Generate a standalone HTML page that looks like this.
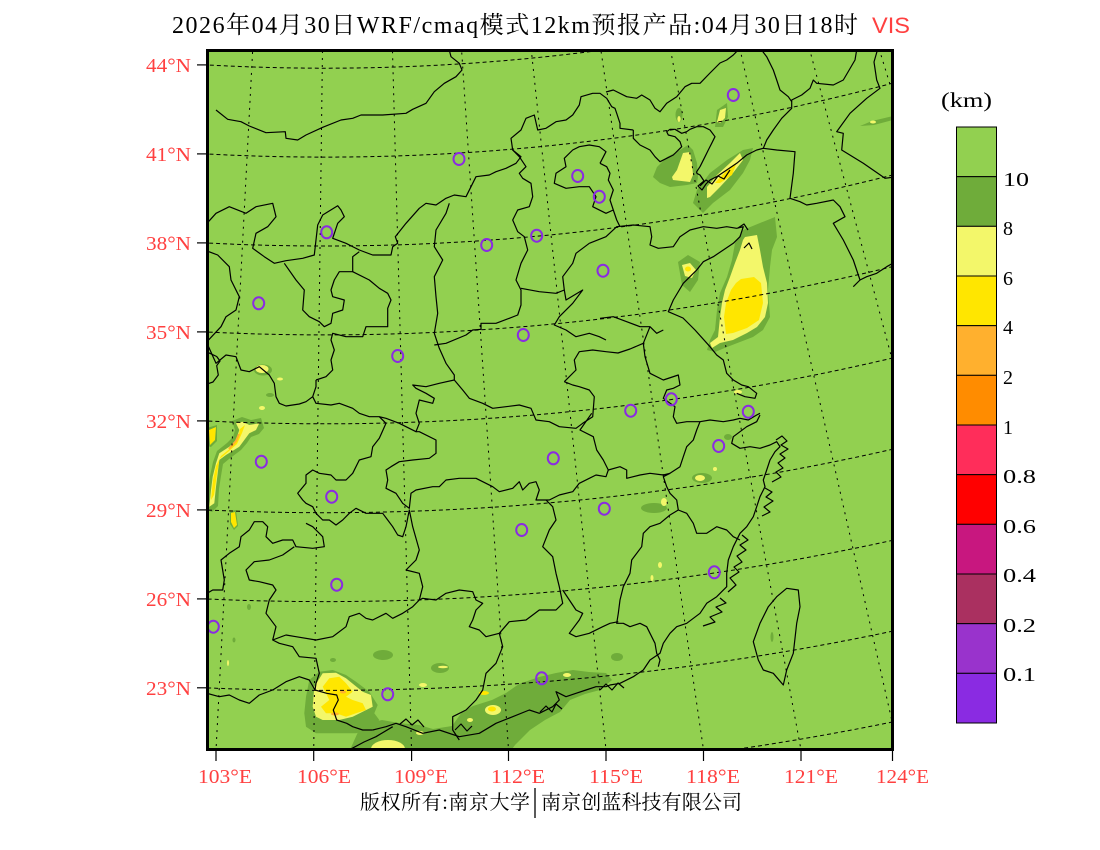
<!DOCTYPE html>
<html><head><meta charset="utf-8">
<style>
html,body{margin:0;padding:0;background:#fff;width:1100px;height:850px;overflow:hidden}
svg{display:block}
</style></head>
<body>
<svg xmlns="http://www.w3.org/2000/svg" width="1100" height="850" viewBox="0 0 1100 850">
<rect x="0" y="0" width="1100" height="850" fill="#ffffff"/>
<defs>
<clipPath id="mc"><rect x="209" y="52" width="682.5" height="696.5"/></clipPath>
</defs>

<g clip-path="url(#mc)">
<rect x="205" y="48" width="690" height="704" fill="#92D050"/>

<!-- fog shapes -->
<g stroke="none">
<!-- Yellow Sea -->
<polygon fill="#6FAC3A" points="743,230 760,223 775,217 777,237 772,250 770,267 768,290 770,317 763,330 753,337 740,342 727,347 715,352 707,350 710,340 715,330 717,310 720,293 727,277 732,260 735,243 740,235"/>
<polygon fill="#F3F76A" points="745,237 757,235 760,250 763,267 767,283 768,303 765,317 757,327 747,333 733,340 720,343 712,348 710,343 718,337 720,317 722,303 725,290 730,277 735,263 740,250 743,240"/>
<polygon fill="#FFE600" points="741,279 754,277 761,283 763,303 759,320 747,328 733,333 726,334 724,317 726,303 731,290 736,283"/>
<!-- Liaodong strip -->
<polygon fill="#6FAC3A" points="700,210 693,203 697,190 710,173 727,160 743,150 753,148 750,160 743,173 730,190 713,203 703,213"/>
<polygon fill="#F3F76A" points="707,198 707,187 717,175 730,163 740,153 743,160 733,173 720,187 710,197"/>
<polygon fill="#FFE600" points="715,183 727,170 737,162 732,175 720,183"/>
<!-- Qinhuangdao blob -->
<polygon fill="#6FAC3A" points="653,177 657,167 667,157 680,150 688,145 693,150 697,163 698,177 697,183 687,185 670,187 660,183"/>
<polygon fill="#F3F76A" points="677,170 683,153 690,152 692,163 693,175 690,182 673,180 672,177"/>
<!-- small north blobs -->
<polygon fill="#6FAC3A" points="715,127 717,110 727,103 728,117 723,127"/>
<polygon fill="#F3F76A" points="717,122 720,110 726,108 725,118 720,123"/>
<ellipse cx="679" cy="115" rx="3.5" ry="7" fill="#6FAC3A"/>
<ellipse cx="679" cy="119" rx="1.6" ry="3" fill="#F3F76A"/>
<polygon fill="#6FAC3A" points="860,126 872,121 893,116 893,120 874,125"/>
<ellipse cx="873" cy="122" rx="3" ry="1.5" fill="#F3F76A"/>
<!-- Shandong NW -->
<polygon fill="#6FAC3A" points="678,262 688,255 700,262 698,280 690,292 682,285"/>
<polygon fill="#F3F76A" points="682,265 690,263 696,270 692,278 685,276"/>
<ellipse cx="688" cy="269" rx="3" ry="2.5" fill="#FFE600"/>
<!-- Sichuan streak -->
<polygon fill="#6FAC3A" points="207,510 208,490 210,476 213,462 217,451 227,443 233,437 235,430 232,421 242,417 251,420 261,418 264,428 259,434 251,437 247,443 241,450 229,459 223,464 221,476 219,489 218,506 212,512"/>
<polygon fill="#F3F76A" points="209.3,506.7 211,490 212.7,476.7 216,463.3 219.3,453.3 229.3,446.7 236,440 239.3,430 236,423.3 242.7,421.7 249.3,425 259.3,423.3 256,430 249.3,433.3 244.3,440 239.3,446.7 226,455 219.3,460 217.7,473.3 216,486.7 214.3,503.3"/>
<polygon fill="#FFE600" points="211,500 213,480 216,466 221,456 232,447 238,438 240,429 245,425 242,433 237,444 228,452 219.5,459 217,474 214,495"/>
<polyline points="229,449 236,441 239,434" fill="none" stroke="#FFB02E" stroke-width="2"/>
<polygon fill="#6FAC3A" points="207,428 217,425 217,441 211,447 207,446"/>
<polygon fill="#FFE600" points="209,430 216,427 215,440 210,445"/>
<polygon fill="#6FAC3A" points="230,511 236,510 238,526 234,530 230,524"/>
<polygon fill="#FFE600" points="231,513 235,512 237,525 234,528 231,522"/>
<ellipse cx="263" cy="370" rx="9" ry="5.5" fill="#6FAC3A"/>
<ellipse cx="262" cy="369" rx="6.5" ry="4" fill="#F3F76A"/>
<ellipse cx="280" cy="379" rx="3" ry="1.5" fill="#F3F76A"/>
<ellipse cx="262" cy="408" rx="3" ry="2" fill="#F3F76A"/>
<ellipse cx="270" cy="395" rx="4" ry="2" fill="#6FAC3A"/>
<ellipse cx="249" cy="607" rx="2" ry="3" fill="#6FAC3A"/>
<ellipse cx="234" cy="640" rx="1.5" ry="2.5" fill="#6FAC3A"/>
<ellipse cx="228" cy="663" rx="1" ry="3" fill="#F3F76A"/>
<!-- south coast dark band -->
<polygon fill="#6FAC3A" points="349,752 358,732 365,724 382,720 399,723 419,725 433,729 452,726 462,712 473,706 492,700 506,693 519,684 539,677 556,673 573,670 589,672 606,673 612,680 600,690 585,694 570,700 560,712 545,720 530,730 515,745 510,752"/>
<ellipse cx="388" cy="749" rx="17" ry="9" fill="#F3F76A"/>
<ellipse cx="493" cy="710" rx="8" ry="5" fill="#F3F76A"/>
<ellipse cx="492" cy="709" rx="4" ry="2.5" fill="#FFE600"/>
<ellipse cx="484" cy="693" rx="5" ry="2" fill="#FFE600"/>
<ellipse cx="420" cy="733" rx="4" ry="2" fill="#F3F76A"/>
<ellipse cx="470" cy="720" rx="3" ry="2" fill="#F3F76A"/>
<ellipse cx="569" cy="674" rx="4" ry="2" fill="#F3F76A"/>
<ellipse cx="383" cy="655" rx="10" ry="5" fill="#6FAC3A"/>
<ellipse cx="440" cy="668" rx="9" ry="5" fill="#6FAC3A"/>
<ellipse cx="443" cy="667" rx="5" ry="1.2" fill="#F3F76A"/>
<ellipse cx="333" cy="660" rx="3" ry="2" fill="#6FAC3A"/>
<ellipse cx="423" cy="685" rx="4" ry="2" fill="#F3F76A"/>
<!-- Guangxi blob -->
<polygon fill="#6FAC3A" points="306,696.7 309.3,680 319.3,671.7 332.7,670 346,675 356,681.7 369.3,691.7 377.7,705 374.3,713.3 379.3,720 369.3,730 356,733.3 339.3,733.3 316,733.3 306,726.7 304.3,713.3"/>
<polygon fill="#F3F76A" points="314.3,686.7 322.7,673.3 336,672.7 346,678.3 354.3,685 362.7,691.7 371,695 372.7,706.7 362.7,711.7 352.7,716.7 339.3,720 322.7,720 316,716.7 312.7,706.7"/>
<polygon fill="#FFE600" points="322.7,686.7 329.3,678.3 339.3,676.7 346,683.3 352.7,691.7 346,696.7 352.7,700 362.7,703.3 366,710 356,713.3 346,716.7 336,713.3 326,713.3 321,706.7 329.3,700 326,693.3"/>
<ellipse cx="343" cy="692" rx="3" ry="1.5" fill="#FFB02E"/>
<ellipse cx="335" cy="714" rx="4" ry="1.5" fill="#FFB02E"/>
<!-- east china small blobs -->
<ellipse cx="702" cy="478" rx="10" ry="5" fill="#6FAC3A"/>
<ellipse cx="700" cy="478" rx="5" ry="3" fill="#F3F76A"/>
<ellipse cx="715" cy="469" rx="2" ry="2" fill="#F3F76A"/>
<ellipse cx="654" cy="508" rx="13" ry="5" fill="#6FAC3A"/>
<ellipse cx="664" cy="502" rx="3" ry="4" fill="#F3F76A"/>
<ellipse cx="728" cy="437" rx="4" ry="3" fill="#6FAC3A"/>
<ellipse cx="617" cy="657" rx="6" ry="4" fill="#6FAC3A"/>
<ellipse cx="568" cy="676" rx="10" ry="5" fill="#6FAC3A"/>
<ellipse cx="567" cy="675" rx="4" ry="2" fill="#F3F76A"/>
<ellipse cx="660" cy="565" rx="2" ry="3" fill="#F3F76A"/>
<ellipse cx="652" cy="578" rx="1.5" ry="3" fill="#F3F76A"/>
<ellipse cx="738" cy="392" rx="4" ry="2" fill="#F3F76A"/>
<ellipse cx="772" cy="637" rx="1.5" ry="5" fill="#6FAC3A"/>
</g>

<!-- parallels -->
<g fill="none" stroke="#000" stroke-width="1" stroke-dasharray="4 3">
<circle cx="325" cy="-2058" r="2837.3"/>
<circle cx="325" cy="-2058" r="2748.4"/>
<circle cx="325" cy="-2058" r="2659.6"/>
<circle cx="325" cy="-2058" r="2570.7"/>
<circle cx="325" cy="-2058" r="2481.8"/>
<circle cx="325" cy="-2058" r="2392.9"/>
<circle cx="325" cy="-2058" r="2304.0"/>
<circle cx="325" cy="-2058" r="2215.1"/>
<circle cx="325" cy="-2058" r="2126.2"/>
</g>
<!-- meridians -->
<g fill="none" stroke="#000" stroke-width="1" stroke-dasharray="2 5">
<line x1="215.5" y1="760" x2="253.2" y2="40"/>
<line x1="313.6" y1="760" x2="322.6" y2="40"/>
<line x1="411.8" y1="760" x2="392.2" y2="40"/>
<line x1="509.2" y1="760" x2="460.9" y2="40"/>
<line x1="607.1" y1="760" x2="530.2" y2="40"/>
<line x1="705" y1="760" x2="599.4" y2="40"/>
<line x1="802.9" y1="760" x2="668.7" y2="40"/>
<line x1="900.8" y1="760" x2="737.9" y2="40"/>
<line x1="998.7" y1="760" x2="807.1" y2="40"/>
<line x1="1096.6" y1="760" x2="876.4" y2="40"/>
</g>

<!-- boundaries -->
<g fill="none" stroke="#000" stroke-width="1.2" stroke-linejoin="round">
<polyline points="216,110 227.7,119.3 241,121.7 249.3,126 266,132.7 285.3,131.7 286,138.3 297.7,140 306,135 322.7,127.3 341,120 352.7,118.3 361,115 382.7,115 406,113.3 412.7,109.3 426,103.3 434.3,91.7 444.3,83.3 456,76.7 462,70 459.3,63.3 451,56.7 448.7,48"/>
<polyline points="207,223.3 216,213.3 229.3,206.7 246,213.3 256,206.7 272.7,203.3 276,216.7 267.7,226.7 256,233.3 252.7,248.3 264.3,256.7 274.3,263.3 286,260.7 302.7,258.3 314.3,255 317.7,225 322.7,215 337.7,205.7 341,210 344.3,216.7 337.7,223.3 332.7,238.3 346,243.3 359.3,250 372.7,255 391,255 392.7,246.7 397.7,243.3 395.3,236.7 406,223.3 419.3,208.3 426,203.3 436,205 446,198.3 454.3,195 466,196.7 471,186.7 476,176.7 489.3,175 496,171.7 506,168.3 516,163.3 521,156.7 512.7,150 511,138.3 521,130 526,118.3 534.3,115 537.7,130 546,128.3 556,121.7 566,120 572.7,115 579.3,105 581,96.7 592.7,93.3 600,93.3 606.7,98.3 611.7,106.7 615,108.3 616.7,113.3 620,123.3 620,128.3 633.3,130"/>
<polyline points="606,92 613.3,90 626.7,96.7 636.7,98.3 641.7,95 650,100 655,108.3 660,111.7 666.7,103.3 676.7,96.7 685,86.7 691.7,83.3 700,83.3 710,73 720,63 726.7,60 733.3,55 740,48"/>
<polyline points="633.3,130 633.3,138.3 640,145 650,150 655,156.7 660,161.7 666.7,158.3 673.3,155 681.7,146.7 680,141.7 675,136.7 668.3,135 666.7,131.7 670,129.3 675,129.3 681.7,133.3 686.7,131.7 690,129.3 696.7,126.7 703.3,126.7 710,130 715,136.7 711.7,143.3 708.3,150 705,156.7 701.7,163.3 700,166.7 696.7,171.7 696.7,173.3"/>
<polyline points="696.7,173.3 700,175 704,181 698,186 702,190 706,184 710,180 716.7,176.7 726.7,170 736.7,163.3 746.7,155 756.7,150 763.3,148.3 776.7,150 795,151.7 793.3,173.3 790,198.3 800,201.7 806.7,205 816.7,203.3 833.3,200 840,206.7 845,216.7 833.3,223.3 843.3,240 853.3,260 860,280 853.3,286.7"/>
<polyline points="860,280 866.7,276.7 876.7,273.3 886.7,266.7 895,262"/>
<polyline points="763.3,148.3 766.7,140 773.3,130 781.7,118.3 791.7,108.3 791.7,100 801.7,95 810,88.3 813.3,80 816.7,83.3 833.3,85 843.3,80 848,72 855,60 857,48"/>
<polyline points="791.7,101.7 788.3,96.7 780,90 776.7,80 773.3,70 766.7,56.7 760,48"/>
<polyline points="878,48 874,62 876.7,80 880,88.3 866.7,98.3 850,113.3 836.7,131.7 843.3,133.3 841.7,150 863.3,163.3 885,178.3 895,177"/>
<polyline points="600,163.3 606.7,166.7 610,173.3 608.3,180 613.3,190 610,200 613.3,210 616.7,220 620,226.7"/>
<polyline points="600,163.3 606,151.7 599.3,146.7 589.3,145 579.3,146.7 572.7,150 564.3,158.3 566,166.7 556,173.3 554.3,183.3 566,188.3 579.3,186.7 589.3,186.7 596,196.7 592.7,206.7 606,213.3 613.3,210"/>
<polyline points="589.3,243.3 606,236.7 616.7,226.7 633.3,225 650,226.7 651.7,236.7 650,245 658.3,248.3 673.3,246.7 680,236.7 690,230 703.3,226.7 716.7,228.3 726.7,226.7 736.7,228.3 743.3,226.7 740,236.7 733.3,243.3 723.3,250 713.3,256.7 703.3,261.7 696.7,270 690,276.7 683.3,283.3 673.3,300 668.3,311.7 683,318 695,330 710,346.7 716.7,355 723.3,360 726.7,373.3 733.3,380 741.7,385 748.3,386.7 756.7,393.3 755,398.3 745,396.7 736.7,393.3"/>
<polyline points="449.3,203.3 446,213.3 436,230 434.3,246.7 442.7,260 434.3,276.7 436,296.7 437.7,313.3 434.3,333.3 439.3,348.3 446,363.3 454.3,375 454.3,380"/>
<polyline points="434.3,345 446,343.3 466,335 472.7,330 481,329.3 481,323.3 496,323.3 509.3,318.3 517.7,315 521,305 521,290 516,280 521,263.3 527.7,250 524.3,236.7 517.7,231.7 512.7,220 517.7,210 529.3,206.7 532.7,196.7 531,183.3 522.7,178.3 519.3,173.3 526,166.7 519.3,156.7 512.7,150"/>
<polyline points="521,288.3 539.3,291.7 556,293.3 564.3,290 566,300 582.7,290 572.7,303.3 559.3,316.7 554.3,325 566,330 576,336.7 589.3,333.3 599.3,336.7 606,340"/>
<polyline points="564.3,290 562.7,276.7 572.7,263.3 576,253.3 589.3,243.3"/>
<polyline points="600,318.3 613.3,316.7 626.7,321.7 640,326.7 650,326.7 656.7,333.3 663.3,330"/>
<polyline points="650,326.7 643.3,343.3 645,356.7 650,373.3 663.3,380 678.3,375 680,385 673.3,388.3 666.7,390 663.3,398.3 675,406.7 673.3,416.7 676.7,423.3 686.7,421.7 700,421.7 710,420 723.3,421.7 733.3,420 740,418.3 748.3,420 756.7,415 760,413.3"/>
<polyline points="606,351.7 618,353 630,349 643.3,343.3"/>
<polyline points="606,351.7 592.7,350 579.3,351.7 574.3,360 576,370 564.3,381.7"/>
<polyline points="454.3,380 462.7,390 469.3,398.3 482.7,403.3 492.7,408.3 506,406.7 519.3,405 531,408.3 536,420 549.3,421.7 559.3,426.7 576,428.3 582.7,423.3 592.7,416.7 594.3,396.7 589.3,390 579.3,386.7 572.7,385 564.3,381.7"/>
<polyline points="591.7,413.3 580,430 593.3,436.7 596.7,450 603.3,460 608.3,470 620,466.7 626.7,470 626.7,478.3 640,475 650,473.3 663.3,475 670,473.3"/>
<polyline points="700,421.7 696.7,430 693.3,440 686.7,446.7 683.3,456.7 680,466.7 670,473.3 663.3,476.7 666.7,486.7 670,493.3 676.7,500 678.3,510 670,515 660,523.3 650,526.7 643.3,533.3 641.7,546.7 631.7,560 630,573.3 623.3,586.7 620,600 618.3,613.3 616.7,623.3 623.3,623.3 630,626.7 640,623.3 646.7,626.7 650,633.3 655,643.3 656.7,653.3 660,660 658.3,666.7"/>
<polyline points="678.3,510 686.7,513.3 693.3,523.3 696.7,533.3 706.7,533.3 716.7,526.7 726.7,530 733.3,536.7 740,540"/>
<polyline points="209,251.7 217.7,255 229.3,266.7 231,280 239.3,296.7 236,310 226,316.7 221,326.7 207,341.7"/>
<polyline points="207,343.3 216,363.3 226,355 236,356.7 241,370 249.3,371.7 259.3,366.7 269.3,375 274.3,383.3 276,396.7 279.3,403.3 286,406 299.3,404 306,401.7 312.7,396.7 316,386.7 316,380"/>
<polyline points="207,352 216.7,356.5 220,361 216.7,365.7 218.3,375 213,382 207,384"/>
<polyline points="284.3,263.3 296,280 304.3,290 302.7,310 309.3,316.7 319.3,321.7 324.3,326.7 331,323.3 332.7,313.3 342.7,310 344.3,300 332.7,296.7 331,290 334.3,280 339.3,271.7 352.7,271.7 352.7,256.7 359.3,251.7"/>
<polyline points="352.7,271.7 369.3,280 379.3,288.3 387.7,293.3 391,300 387.7,308.3 387.7,326.7 366,326.7 362.7,336.7 346,336.7 332.7,333.3 331,340 334.3,350 331,360 332.7,370 326,376.7 316,380"/>
<polyline points="312.7,396.7 316,403.3 331,405 339.3,403.3 352.7,408.3 359.3,413.3 369.3,416.7 379.3,416.7 386,418.3 399.3,423.3 406,426.7 416,431.7 419.3,423.3 416,413.3 419.3,400 432.7,403.3 434.3,398.3 426,393.3 416,388.3 412.7,385 426,386.7 439.3,383.3 454.3,380"/>
<polyline points="416,431.7 419.3,431.7 436,440 436,453.3 429.3,458.3 412.7,460 399.3,461.7 391,466.7 386,470 387.7,480 386,488.3 396,493.3 402.7,503.3 409.3,508.3 411,493.3 416,490 432.7,486.7 439.3,486.7 446,480 459.3,478.3 476,478.3 492.7,486.7 499.3,491.7 512.7,488.3 519.3,481.7 522.7,490 529.3,483.3 536,481.7 539.3,490 536,500 549.3,500 559.3,495 572.7,491.7 579.3,483.3 589.3,478.3 596,475 606,476.7 608.3,470"/>
<polyline points="379.3,416.7 386,423.3 379.3,438.3 372.7,446.7 371,456.7 359.3,460 352.7,473.3 346,480 336,480 331,475 319.3,473.3 312.7,470 306,475 306,483.3 297.7,493.3 302.7,500 306,503.3 312.7,506.7 316,513.3 322.7,520 329.3,520 336,525 342.7,520 349.3,513.3 356,508.3 366,513.3 382.7,513.3 387.7,520 392.7,526.7 397.7,535 402.7,536.7 406,526.7 409.3,510 412.7,526.7 419.3,550 416,560 406,570 419.3,573.3 422.7,586.7 419.3,600"/>
<polyline points="306,523.3 312.7,526.7 322.7,536.7 324.3,546.7 312.7,548.3 296,546.7 292.7,540 282.7,540 272.7,543.3 266,536.7 267.7,526.7 262.7,521.7 254.3,521.7 249.3,530 241,536.7 239.3,546.7 229.3,553.3 221,560 224.3,580 222.7,590 212.7,590 207,593.3"/>
<polyline points="294.3,546.7 282.7,555 269.3,560 254.3,561.7 246,570 249.3,580 259.3,581.7 272.7,585 276,590 269.3,600 266,613.3 276,626.7 272.7,640 279.3,643.3 292.7,646.7 299.3,656.7 316,658.3 319.3,673.3 316,683.3 315,690"/>
<polyline points="272.7,640 286,635 296,636.7 316,640 332.7,636.7 346,626.7 349.3,616.7 359.3,613.3 366,618.3 372.7,620 386,613.3 392.7,618.3 402.7,613.3 412.7,606.7 419.3,600 422.7,598.3 436,600 446,593.3 459.3,590 472.7,591.7 476,600 482.7,603.3 476,610 472.7,620 469.3,626.7 479.3,630 486,636.7 499.3,633.3"/>
<polyline points="499.3,633.3 502.7,646.7 496,663.3 486,673.3 482.7,690 476,700 466,710 452.7,716.7 452.7,730 459.3,740"/>
<polyline points="499.3,633.3 509.3,621.7 526,620 532.7,615 539.3,610 556,610 562.7,603.3 559.3,586.7 556,573.3 552.7,556.7 542.7,546.7 549.3,530 556,520 552.7,506.7 546,500"/>
<polyline points="562.7,590 576,610 582.7,613.3 579.3,620 569.3,633.3 576,636.7 589.3,633.3 602.7,626.7 610,623.3 618.3,621.7"/>
<polyline points="207,693.3 219.3,696.7 229.3,695 239.3,700 249.3,703.3 259.3,695 272.7,690 286,681.7 299.3,676.7 309.3,680 315,690 326.7,693.3 336.7,695 338.3,700 333.3,710 336.7,720 346.7,723.3 352.7,726.7 362.7,730 372.7,730"/>
<polyline points="372.7,730 386,726.7 396,723.3 406,726.7 422.7,733.3 439.3,730 459.3,736.7 479.3,733.3 496,723.3 512.7,716.7 529.3,710 539.3,713.3 552.7,706.7 559.3,700 556,691.7 566,696.7 576,693.3 586,690 596,686.7 606,686.7 610,685 620,683.3 633.3,676.7 643.3,670 650,660 660,653.3 663.3,643.3 670,633.3 676.7,626.7 686.7,623.3 700,613.3 706.7,603.3 716.7,596.7 726.7,586.7 726.7,573.3 728.3,560 733.3,546.7 740,533.3 746.7,526.7 753.3,516.7 756.7,506.7 760,496.7 765,486.7 763.3,480 766.7,470 770,460 775,451.7 780,446.7 776.7,441.7 770,445 760,448.3 750,446.7 740,448.3 731.7,443.3 733.3,436.7 740,431.7 746.7,426.7 756.7,421.7 760,415"/>
<polyline points="349,750 364,742 376,736.7 392.7,726.7"/>
<polygon points="786.7,588.3 798.3,590 800,606.7 796.7,623.3 793.3,653.3 786.7,670 783.3,685 773.3,673.3 763.3,670 758.3,660 753.3,641.7 760,623.3 768.3,606.7 776.7,596.7"/>
<!-- jagged coasts / islands -->
<polyline points="776,440 782,436 787,441 781,445 788,449 780,454 785,458 778,463 783,468 776,472 781,477 772,482"/>
<polyline points="765,488 772,492 766,497 773,501 764,507 770,512 762,516"/>
<polyline points="742,535 748,540 740,545 746,550 737,556 742,562 734,567 739,572 730,578 736,585 728,592"/>
<polyline points="720,598 726,603 716,607 722,612 710,617 715,622 703,626"/>
<polyline points="600,690 606,684 612,690 618,683 624,688"/>
<polyline points="540,712 546,706 552,712 556,704 562,709"/>
<polyline points="400,724 406,719 412,725 418,720 424,727"/>
<polyline points="455,730 461,724 467,731 472,726"/>
<polyline points="738,228 744,224 748,230"/>
<polyline points="700,186 706,180 712,184 718,176 724,179 730,170"/>
<polyline points="744,248 749,243 752,249"/>
</g>

<!-- stations -->
<g fill="none" stroke="#8A2BE2" stroke-width="2">
<ellipse cx="459" cy="159" rx="5.5" ry="6"/>
<ellipse cx="577.7" cy="176" rx="5.5" ry="6"/>
<ellipse cx="599.3" cy="196.7" rx="5.5" ry="6"/>
<ellipse cx="326.7" cy="232.3" rx="5.5" ry="6"/>
<ellipse cx="486.7" cy="245" rx="5.5" ry="6"/>
<ellipse cx="536.7" cy="235.7" rx="5.5" ry="6"/>
<ellipse cx="603" cy="270.7" rx="5.5" ry="6"/>
<ellipse cx="258.7" cy="303.3" rx="5.5" ry="6"/>
<ellipse cx="523.3" cy="335" rx="5.5" ry="6"/>
<ellipse cx="397.7" cy="356" rx="5.5" ry="6"/>
<ellipse cx="733.3" cy="95" rx="5.5" ry="6"/>
<ellipse cx="671.3" cy="399.3" rx="5.5" ry="6"/>
<ellipse cx="630.7" cy="410.7" rx="5.5" ry="6"/>
<ellipse cx="748.3" cy="411.7" rx="5.5" ry="6"/>
<ellipse cx="718.7" cy="446" rx="5.5" ry="6"/>
<ellipse cx="261.3" cy="461.7" rx="5.5" ry="6"/>
<ellipse cx="553.3" cy="458.3" rx="5.5" ry="6"/>
<ellipse cx="331.7" cy="496.7" rx="5.5" ry="6"/>
<ellipse cx="604.3" cy="508.7" rx="5.5" ry="6"/>
<ellipse cx="521.7" cy="530" rx="5.5" ry="6"/>
<ellipse cx="336.7" cy="584.7" rx="5.5" ry="6"/>
<ellipse cx="714.3" cy="572.3" rx="5.5" ry="6"/>
<ellipse cx="213.3" cy="626.7" rx="5.5" ry="6"/>
<ellipse cx="387.7" cy="694.3" rx="5.5" ry="6"/>
<ellipse cx="541.7" cy="678.3" rx="5.5" ry="6"/>
</g>
</g>

<!-- frame -->
<rect x="207.5" y="50.5" width="685" height="699" fill="none" stroke="#000" stroke-width="3"/>

<!-- ticks -->
<g stroke="#000" stroke-width="1.2">
<line x1="197" y1="64.9" x2="206" y2="64.9"/>
<line x1="197" y1="153.9" x2="206" y2="153.9"/>
<line x1="197" y1="242.9" x2="206" y2="242.9"/>
<line x1="197" y1="331.9" x2="206" y2="331.9"/>
<line x1="197" y1="420.9" x2="206" y2="420.9"/>
<line x1="197" y1="509.9" x2="206" y2="509.9"/>
<line x1="197" y1="598.9" x2="206" y2="598.9"/>
<line x1="197" y1="687.8" x2="206" y2="687.8"/>
<line x1="216" y1="751" x2="216" y2="761"/>
<line x1="313.7" y1="751" x2="313.7" y2="761"/>
<line x1="411.6" y1="751" x2="411.6" y2="761"/>
<line x1="508.5" y1="751" x2="508.5" y2="761"/>
<line x1="606" y1="751" x2="606" y2="761"/>
<line x1="703.5" y1="751" x2="703.5" y2="761"/>
<line x1="801" y1="751" x2="801" y2="761"/>
<line x1="892.5" y1="751" x2="892.5" y2="761"/>
</g>

<!-- axis labels -->
<g fill="#FF4040" font-family="'Liberation Serif', serif" font-size="20">
<text x="191" y="72" text-anchor="end" textLength="45" lengthAdjust="spacingAndGlyphs">44°N</text>
<text x="191" y="161" text-anchor="end" textLength="45" lengthAdjust="spacingAndGlyphs">41°N</text>
<text x="191" y="250" text-anchor="end" textLength="45" lengthAdjust="spacingAndGlyphs">38°N</text>
<text x="191" y="339" text-anchor="end" textLength="45" lengthAdjust="spacingAndGlyphs">35°N</text>
<text x="191" y="428" text-anchor="end" textLength="45" lengthAdjust="spacingAndGlyphs">32°N</text>
<text x="191" y="517" text-anchor="end" textLength="45" lengthAdjust="spacingAndGlyphs">29°N</text>
<text x="191" y="606" text-anchor="end" textLength="45" lengthAdjust="spacingAndGlyphs">26°N</text>
<text x="191" y="695" text-anchor="end" textLength="45" lengthAdjust="spacingAndGlyphs">23°N</text>
<text x="198" y="783" textLength="54" lengthAdjust="spacingAndGlyphs">103°E</text>
<text x="297" y="783" textLength="54" lengthAdjust="spacingAndGlyphs">106°E</text>
<text x="394" y="783" textLength="54" lengthAdjust="spacingAndGlyphs">109°E</text>
<text x="491" y="783" textLength="54" lengthAdjust="spacingAndGlyphs">112°E</text>
<text x="589" y="783" textLength="54" lengthAdjust="spacingAndGlyphs">115°E</text>
<text x="686" y="783" textLength="54" lengthAdjust="spacingAndGlyphs">118°E</text>
<text x="784" y="783" textLength="54" lengthAdjust="spacingAndGlyphs">121°E</text>
<text x="876" y="783" textLength="53" lengthAdjust="spacingAndGlyphs">124°E</text>
</g>

<!-- title -->
<text x="172" y="33" font-family="'Liberation Serif','Noto Serif CJK SC',serif" font-size="24" fill="#000" textLength="686" lengthAdjust="spacing">2026年04月30日WRF/cmaq模式12km预报产品:04月30日18时</text>
<text x="872" y="33" font-family="'Liberation Sans',sans-serif" font-size="22" fill="#FF4040" textLength="38" lengthAdjust="spacingAndGlyphs">VIS</text>

<!-- footer -->
<text x="360" y="809" font-family="'Liberation Serif','Noto Serif CJK SC',serif" font-size="20" fill="#000" textLength="170" lengthAdjust="spacing">版权所有:南京大学</text>
<line x1="535" y1="788" x2="535" y2="818" stroke="#000" stroke-width="1.3"/>
<text x="541" y="809" font-family="'Liberation Serif','Noto Serif CJK SC',serif" font-size="20" fill="#000" textLength="201" lengthAdjust="spacing">南京创蓝科技有限公司</text>

<!-- colorbar -->
<text x="941" y="107" font-family="'Liberation Serif',serif" font-size="21" fill="#000" textLength="51" lengthAdjust="spacingAndGlyphs">(km)</text>
<g stroke="#000" stroke-width="1">
<rect x="956.5" y="127" width="40" height="49.67" fill="#92D050"/>
<rect x="956.5" y="176.67" width="40" height="49.67" fill="#6FAC3A"/>
<rect x="956.5" y="226.33" width="40" height="49.67" fill="#F3F76A"/>
<rect x="956.5" y="276" width="40" height="49.67" fill="#FFE600"/>
<rect x="956.5" y="325.67" width="40" height="49.67" fill="#FFB02E"/>
<rect x="956.5" y="375.33" width="40" height="49.67" fill="#FF8C00"/>
<rect x="956.5" y="425" width="40" height="49.67" fill="#FF2D5A"/>
<rect x="956.5" y="474.67" width="40" height="49.67" fill="#FF0000"/>
<rect x="956.5" y="524.33" width="40" height="49.67" fill="#C8177F"/>
<rect x="956.5" y="574" width="40" height="49.67" fill="#AA3060"/>
<rect x="956.5" y="623.67" width="40" height="49.67" fill="#9933CC"/>
<rect x="956.5" y="673.33" width="40" height="49.67" fill="#8A2BE2"/>
</g>
<g fill="#000" font-family="'Liberation Serif',serif" font-size="20">
<text x="1003" y="186" textLength="26" lengthAdjust="spacingAndGlyphs">10</text>
<text x="1003" y="235">8</text>
<text x="1003" y="285">6</text>
<text x="1003" y="334">4</text>
<text x="1003" y="384">2</text>
<text x="1003" y="434">1</text>
<text x="1003" y="483" textLength="33" lengthAdjust="spacingAndGlyphs">0.8</text>
<text x="1003" y="533" textLength="33" lengthAdjust="spacingAndGlyphs">0.6</text>
<text x="1003" y="582" textLength="33" lengthAdjust="spacingAndGlyphs">0.4</text>
<text x="1003" y="632" textLength="33" lengthAdjust="spacingAndGlyphs">0.2</text>
<text x="1003" y="681" textLength="33" lengthAdjust="spacingAndGlyphs">0.1</text>
</g>
</svg>
</body></html>
